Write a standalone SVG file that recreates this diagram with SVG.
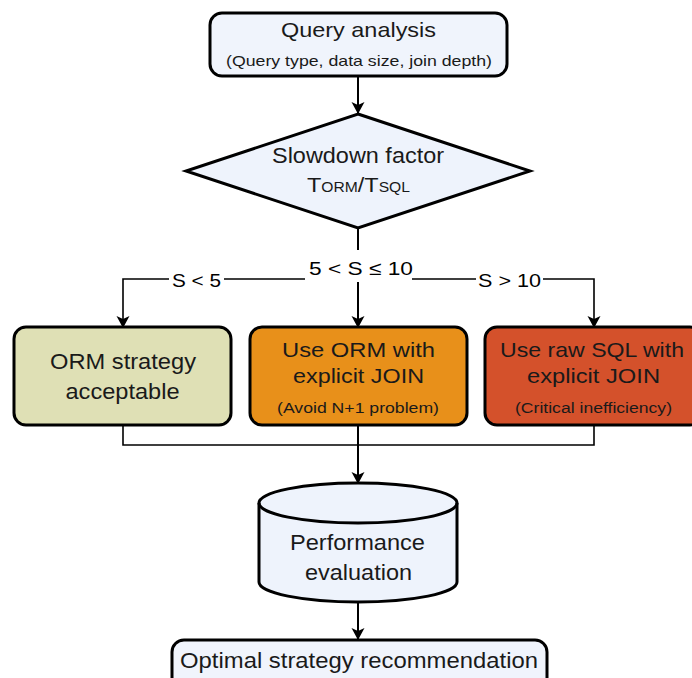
<svg xmlns="http://www.w3.org/2000/svg" width="692" height="678" viewBox="0 0 692 678">
<style>
.t{font-family:"Liberation Sans",Arial,sans-serif;fill:#1a1a1a;text-anchor:middle}
.node{stroke:#000;stroke-width:3}
.c{fill:none;stroke:#000;stroke-width:1.6}
.v{stroke-width:2}
.lbl{font-family:"Liberation Sans",Arial,sans-serif;fill:#000;text-anchor:middle;font-size:19px}
</style>
<defs>
<marker id="ah" viewBox="0 0 12 14" refX="11" refY="7" markerWidth="12" markerHeight="14" markerUnits="userSpaceOnUse" orient="auto">
<path d="M0,0.5 L12,7 L0,13.5 L3,7 Z" fill="#000"/>
</marker>
</defs>
<g id="connectors">
<line class="c v" x1="358" y1="77" x2="358" y2="113" marker-end="url(#ah)"/>
<line class="c v" x1="358" y1="228" x2="358" y2="250"/>
<line class="c v" x1="358" y1="282" x2="358" y2="327" marker-end="url(#ah)"/>
<polyline class="c" points="305,279 123,279 123,327" marker-end="url(#ah)"/>
<polyline class="c" points="412,279 594,279 594,327" marker-end="url(#ah)"/>
<polyline class="c" points="123,426 123,445 594,445 594,426"/>
<line class="c v" x1="358" y1="426" x2="358" y2="483" marker-end="url(#ah)"/>
<line class="c v" x1="358" y1="603" x2="358" y2="639" marker-end="url(#ah)"/>
<rect x="169" y="270" width="55" height="19" fill="#fff"/>
<text class="lbl" x="196.5" y="287" textLength="49" lengthAdjust="spacingAndGlyphs">S &lt; 5</text>
<rect x="476" y="270" width="67" height="19" fill="#fff"/>
<text class="lbl" x="509.5" y="287" textLength="63" lengthAdjust="spacingAndGlyphs">S &gt; 10</text>
<text class="lbl" x="361" y="275" font-size="20" textLength="104" lengthAdjust="spacingAndGlyphs">5 &lt; S ≤ 10</text>
</g>
<g id="query-analysis">
<rect class="node" x="210" y="13" width="297" height="63" rx="12" fill="#f0f4fc"/>
<text class="t" x="358.5" y="37" font-size="21" textLength="155" lengthAdjust="spacingAndGlyphs">Query analysis</text>
<text class="t" x="359" y="66" font-size="15" textLength="266" lengthAdjust="spacingAndGlyphs">(Query type, data size, join depth)</text>
</g>
<g id="slowdown-factor">
<polygon class="node" points="358,114 530,171 358,228 186,171" fill="#eef3fc"/>
<text class="t" x="358" y="163" font-size="22" textLength="172" lengthAdjust="spacingAndGlyphs">Slowdown factor</text>
<text class="t" x="358.5" y="192" font-size="21" textLength="103" lengthAdjust="spacingAndGlyphs">T<tspan font-size="14">ORM</tspan>/T<tspan font-size="14">SQL</tspan></text>
</g>
<g id="orm-acceptable">
<rect class="node" x="14" y="327" width="217" height="98" rx="12" fill="#dfe0b5"/>
<text class="t" x="123" y="369" font-size="22" textLength="146" lengthAdjust="spacingAndGlyphs">ORM strategy</text>
<text class="t" x="122.5" y="399" font-size="22" textLength="114" lengthAdjust="spacingAndGlyphs">acceptable</text>
</g>
<g id="orm-join">
<rect class="node" x="250" y="327" width="217" height="98" rx="12" fill="#e8901a"/>
<text class="t" x="358.5" y="357" font-size="21" textLength="153" lengthAdjust="spacingAndGlyphs">Use ORM with</text>
<text class="t" x="358.5" y="383" font-size="21" textLength="131" lengthAdjust="spacingAndGlyphs">explicit JOIN</text>
<text class="t" x="358" y="413" font-size="14" textLength="162" lengthAdjust="spacingAndGlyphs">(Avoid N+1 problem)</text>
</g>
<g id="raw-sql">
<rect class="node" x="485" y="327" width="217" height="98" rx="12" fill="#d4512b"/>
<text class="t" x="592" y="357" font-size="21" textLength="184" lengthAdjust="spacingAndGlyphs">Use raw SQL with</text>
<text class="t" x="593.5" y="383" font-size="21" textLength="133" lengthAdjust="spacingAndGlyphs">explicit JOIN</text>
<text class="t" x="593.5" y="413" font-size="14" textLength="157" lengthAdjust="spacingAndGlyphs">(Critical inefficiency)</text>
</g>
<g id="performance-evaluation">
<path class="node" d="M259,503 A99,20 0 0 1 457,503 L457,582 A99,20 0 0 1 259,582 Z" fill="#eef3fc"/>
<path class="node" d="M259,503 A99,20 0 0 0 457,503" fill="none"/>
<text class="t" x="357.5" y="550" font-size="22" textLength="135" lengthAdjust="spacingAndGlyphs">Performance</text>
<text class="t" x="358.5" y="580" font-size="22" textLength="107" lengthAdjust="spacingAndGlyphs">evaluation</text>
</g>
<g id="optimal-strategy">
<rect class="node" x="172" y="640" width="375" height="50" rx="12" fill="#f0f4fc"/>
<text class="t" x="359" y="668" font-size="22" textLength="358" lengthAdjust="spacingAndGlyphs">Optimal strategy recommendation</text>
</g>
</svg>
